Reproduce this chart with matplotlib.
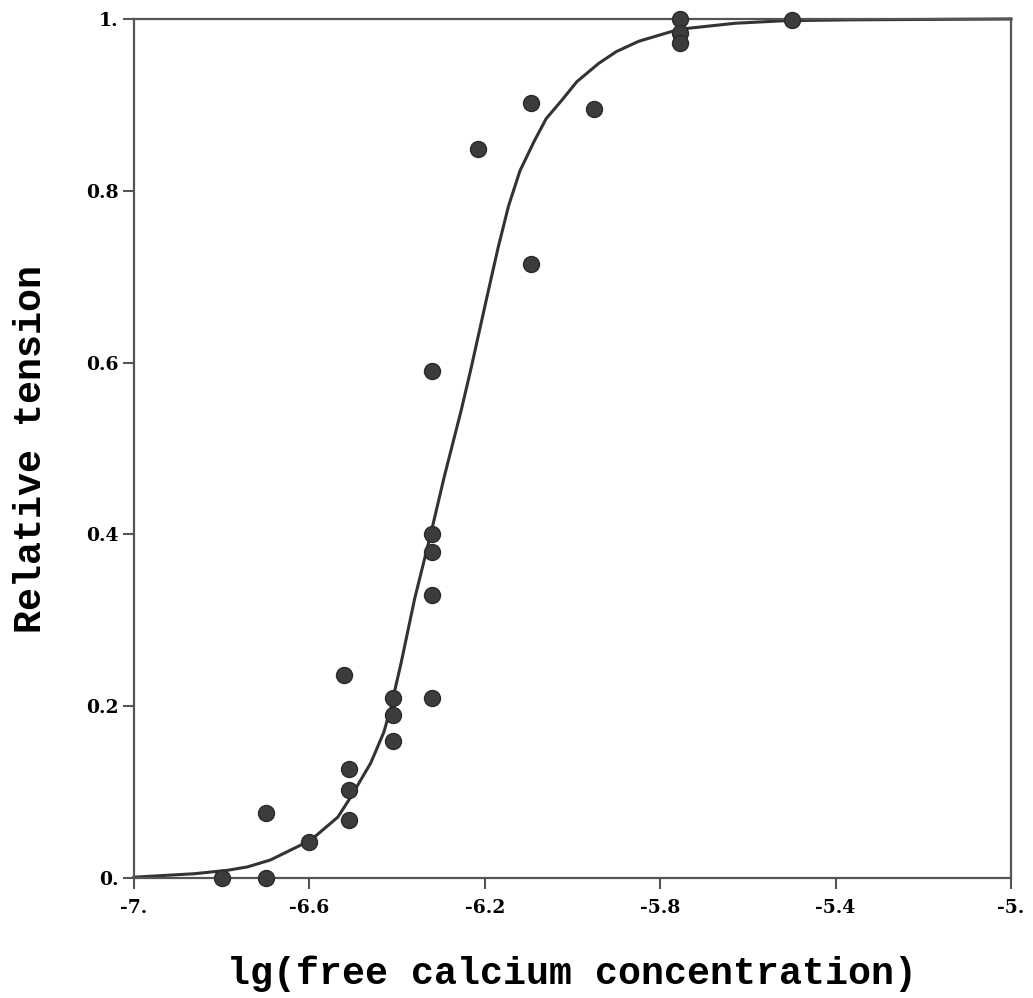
import matplotlib
matplotlib.use("Agg")
import matplotlib.pyplot as plt

# measured points (lg[Ca], relative tension)
ca_log = [-6.8, -6.7, -6.7, -6.6,
          -6.52, -6.51, -6.51, -6.51,
          -6.41, -6.41, -6.41,
          -6.32, -6.32, -6.32, -6.32, -6.32,
          -6.215, -6.095, -6.095, -5.95,
          -5.755, -5.755, -5.755, -5.5]
tension = [0.0, 0.0, 0.076, 0.042,
           0.236, 0.127, 0.102, 0.067,
           0.21, 0.19, 0.16,
           0.59, 0.40, 0.379, 0.329, 0.21,
           0.849, 0.715, 0.902, 0.895,
           1.0, 0.984, 0.972, 0.999]

# fitted curve
fit_x = [-7.0, -6.863, -6.787, -6.741, -6.689, -6.597, -6.535, -6.506, -6.46,
         -6.43, -6.414, -6.391, -6.36, -6.323, -6.293, -6.254, -6.231, -6.197,
         -6.17, -6.146, -6.12, -6.087, -6.06, -6.025, -5.99, -5.941, -5.9,
         -5.849, -5.757, -5.629, -5.515, -5.362, -5.0]
fit_y = [0.001, 0.005, 0.009, 0.013, 0.021, 0.044, 0.071, 0.094, 0.134,
         0.17, 0.199, 0.25, 0.325, 0.401, 0.466, 0.544, 0.594, 0.672,
         0.733, 0.782, 0.823, 0.858, 0.884, 0.905, 0.927, 0.948, 0.962,
         0.974, 0.988, 0.995, 0.998, 0.999, 1.0]

x_ticks = [-7.0, -6.6, -6.2, -5.8, -5.4, -5.0]
x_tick_labels = ["-7.", "-6.6", "-6.2", "-5.8", "-5.4", "-5."]
y_ticks = [0.0, 0.2, 0.4, 0.6, 0.8, 1.0]
y_tick_labels = ["0.", "0.2", "0.4", "0.6", "0.8", "1."]

label_font = "Liberation Mono"
tick_font = "DejaVu Serif"

fig = plt.figure(figsize=(10.33, 9.98), dpi=100)
ax = fig.add_axes([0.1297, 0.1202, 0.849, 0.8608])

ax.plot(fit_x, fit_y, color="#333333", lw=2.2, clip_on=False, zorder=2)
ax.plot(ca_log, tension, "o", color="#3c3c3c", mec="#2a2a2a", ms=11.5,
        clip_on=False, zorder=3)

ax.set_xlim(-7.0, -5.0)
ax.set_ylim(0.0, 1.0)

ax.set_xticks(x_ticks)
ax.set_xticklabels(x_tick_labels, fontfamily=tick_font, fontweight="bold", fontsize=13.5)
ax.set_yticks(y_ticks)
ax.set_yticklabels(y_tick_labels, fontfamily=tick_font, fontweight="bold", fontsize=13.5)
ax.tick_params(axis="both", direction="out", length=8, width=1.5, color="#555555")
ax.tick_params(axis="x", pad=7)
ax.tick_params(axis="y", pad=3)

for s in ax.spines.values():
    s.set_color("#555555")
    s.set_linewidth(1.6)

ax.set_xlabel("lg(free calcium concentration)", fontfamily=label_font,
              fontweight="bold", fontsize=27.5, labelpad=28)
ax.set_ylabel("Relative tension", fontfamily=label_font, fontweight="bold",
              fontsize=27.5, labelpad=27)

fig.savefig("out.png", dpi=100)
